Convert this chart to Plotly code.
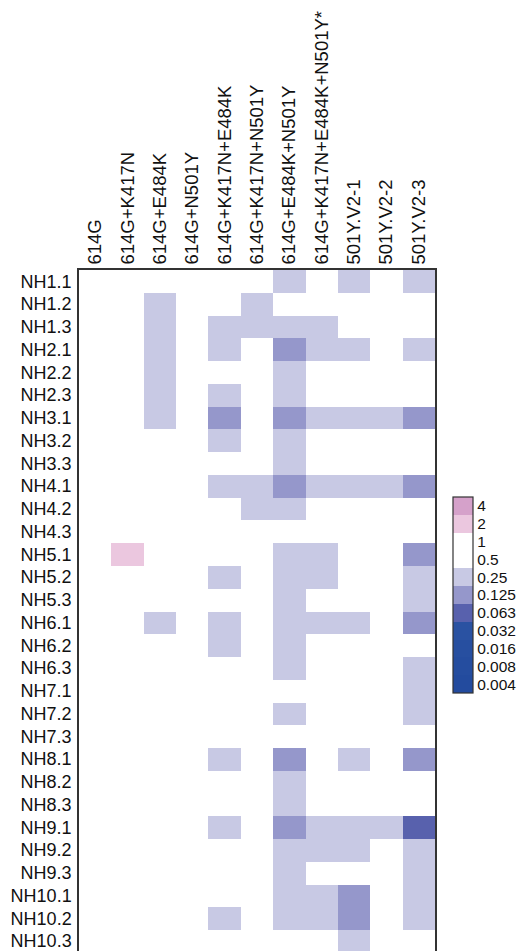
import numpy as np
import plotly.graph_objects as go

variants = ["614G", "614G+K417N", "614G+E484K", "614G+N501Y", "614G+K417N+E484K",
            "614G+K417N+N501Y", "614G+E484K+N501Y", "614G+K417N+E484K+N501Y*",
            "501Y.V2-1", "501Y.V2-2", "501Y.V2-3"]

samples = ["NH1.1", "NH1.2", "NH1.3", "NH2.1", "NH2.2", "NH2.3", "NH3.1", "NH3.2", "NH3.3",
           "NH4.1", "NH4.2", "NH4.3", "NH5.1", "NH5.2", "NH5.3", "NH6.1", "NH6.2", "NH6.3",
           "NH7.1", "NH7.2", "NH7.3", "NH8.1", "NH8.2", "NH8.3", "NH9.1", "NH9.2", "NH9.3",
           "NH10.1", "NH10.2", "NH10.3"]

# fold change relative to reference (one row per sample, one value per variant)
fold_change = [
    [1, 1, 1, 1, 1, 1, 0.25, 1, 0.25, 1, 0.25],          # NH1.1
    [1, 1, 0.25, 1, 1, 0.25, 1, 1, 1, 1, 1],             # NH1.2
    [1, 1, 0.25, 1, 0.25, 0.25, 0.25, 0.25, 1, 1, 1],    # NH1.3
    [1, 1, 0.25, 1, 0.25, 1, 0.125, 0.25, 0.25, 1, 0.25],  # NH2.1
    [1, 1, 0.25, 1, 1, 1, 0.25, 1, 1, 1, 1],             # NH2.2
    [1, 1, 0.25, 1, 0.25, 1, 0.25, 1, 1, 1, 1],          # NH2.3
    [1, 1, 0.25, 1, 0.125, 1, 0.125, 0.25, 0.25, 0.25, 0.125],  # NH3.1
    [1, 1, 1, 1, 0.25, 1, 0.25, 1, 1, 1, 1],             # NH3.2
    [1, 1, 1, 1, 1, 1, 0.25, 1, 1, 1, 1],                # NH3.3
    [1, 1, 1, 1, 0.25, 0.25, 0.125, 0.25, 0.25, 0.25, 0.125],  # NH4.1
    [1, 1, 1, 1, 1, 0.25, 0.25, 1, 1, 1, 1],             # NH4.2
    [1, 1, 1, 1, 1, 1, 1, 1, 1, 1, 1],                   # NH4.3
    [1, 2, 1, 1, 1, 1, 0.25, 0.25, 1, 1, 0.125],         # NH5.1
    [1, 1, 1, 1, 0.25, 1, 0.25, 0.25, 1, 1, 0.25],       # NH5.2
    [1, 1, 1, 1, 1, 1, 0.25, 1, 1, 1, 0.25],             # NH5.3
    [1, 1, 0.25, 1, 0.25, 1, 0.25, 0.25, 0.25, 1, 0.125],  # NH6.1
    [1, 1, 1, 1, 0.25, 1, 0.25, 1, 1, 1, 1],             # NH6.2
    [1, 1, 1, 1, 1, 1, 0.25, 1, 1, 1, 0.25],             # NH6.3
    [1, 1, 1, 1, 1, 1, 1, 1, 1, 1, 0.25],                # NH7.1
    [1, 1, 1, 1, 1, 1, 0.25, 1, 1, 1, 0.25],             # NH7.2
    [1, 1, 1, 1, 1, 1, 1, 1, 1, 1, 1],                   # NH7.3
    [1, 1, 1, 1, 0.25, 1, 0.125, 1, 0.25, 1, 0.125],     # NH8.1
    [1, 1, 1, 1, 1, 1, 0.25, 1, 1, 1, 1],                # NH8.2
    [1, 1, 1, 1, 1, 1, 0.25, 1, 1, 1, 1],                # NH8.3
    [1, 1, 1, 1, 0.25, 1, 0.125, 0.25, 0.25, 0.25, 0.063],  # NH9.1
    [1, 1, 1, 1, 1, 1, 0.25, 0.25, 0.25, 1, 0.25],       # NH9.2
    [1, 1, 1, 1, 1, 1, 0.25, 1, 1, 1, 0.25],             # NH9.3
    [1, 1, 1, 1, 1, 1, 0.25, 0.25, 0.125, 1, 0.25],      # NH10.1
    [1, 1, 1, 1, 0.25, 1, 0.25, 0.25, 0.125, 1, 0.25],   # NH10.2
    [1, 1, 1, 1, 1, 1, 1, 1, 0.25, 1, 1],                # NH10.3
]

scale_labels = ["4", "2", "1", "0.5", "0.25", "0.125", "0.063", "0.032", "0.016", "0.008", "0.004"]
scale_values = [4, 2, 1, 0.5, 0.25, 0.125, 0.063, 0.032, 0.016, 0.008, 0.004]
# colours from lowest bin (0.004) to highest (4)
bin_colors = ["#234b9e", "#254d9f", "#274fa0", "#2a52a2", "#5861ad", "#9597cb",
              "#c8c9e4", "#ffffff", "#ffffff", "#ebc7df", "#d5a1ca"]

z = np.round(np.log2(np.array(fold_change, dtype=float)))
tick_z = np.round(np.log2(np.array(scale_values, dtype=float)))

nb = len(bin_colors)
colorscale = []
for i, c in enumerate(bin_colors):
    colorscale.append([i / nb, c])
    colorscale.append([(i + 1) / nb, c])

W, H = 521, 951
L, R, T, B = 79, 86, 270, 0
plot_w = W - L - R
plot_h = H - T - B
row_px = 22.75
rows_visible = plot_h / row_px

fig = go.Figure(go.Heatmap(
    z=z, x=variants, y=samples,
    colorscale=colorscale, zmin=tick_z.min() - 0.5, zmax=tick_z.max() + 0.5,
    showscale=True,
    colorbar=dict(
        tickvals=tick_z, ticktext=scale_labels, ticks="",
        thickness=20, thicknessmode="pixels",
        len=196, lenmode="pixels",
        x=(452.5 - L) / plot_w, xanchor="left", xpad=0, ypad=0,
        y=(H - 595) / plot_h, yanchor="middle",
        outlinewidth=1.2, outlinecolor="#333333",
        tickfont=dict(family="Arial, Liberation Sans, sans-serif", size=15.5, color="#111111"),
    ),
    hoverongaps=False,
))

fig.update_layout(
    width=W, height=H,
    margin=dict(l=L, r=R, t=T, b=B, pad=0),
    paper_bgcolor="white", plot_bgcolor="white",
    font=dict(family="Arial, Liberation Sans, sans-serif", color="#111111"),
    xaxis=dict(side="top", tickangle=-90, showgrid=False, zeroline=False,
               showline=True, linecolor="#333333", linewidth=1.5, ticks="",
               tickfont=dict(size=18.5), range=[-0.5, len(variants) - 0.5]),
    yaxis=dict(autorange=False, range=[rows_visible - 0.5, -0.5],
               showgrid=False, zeroline=False, showline=True, mirror=True,
               linecolor="#333333", linewidth=1.5, ticks="", ticklabelstandoff=2,
               tickfont=dict(size=18)),
)

fig.write_html("out.html")
